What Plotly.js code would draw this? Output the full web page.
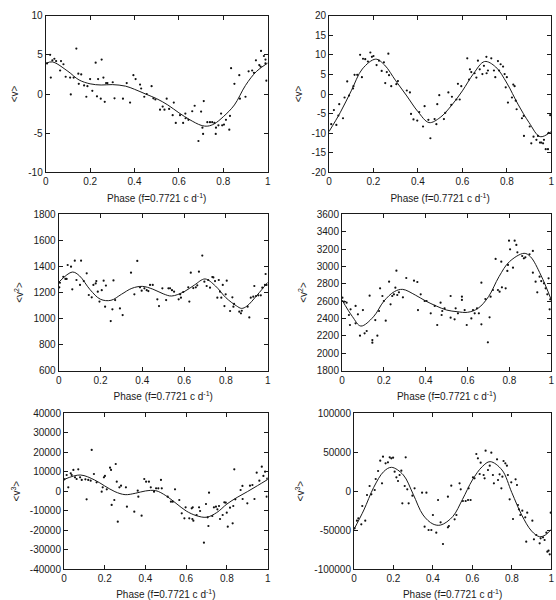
<!DOCTYPE html>
<html>
<head>
<meta charset="utf-8">
<script src="https://cdn.plot.ly/plotly-3.0.1.min.js"></script>
<style>
  html, body { margin: 0; padding: 0; background: #fff; }
  #chart { width: 556px; height: 600px; }
</style>
</head>
<body>
<div id="chart"></div>
<script>
// ---------- shared axis labels ----------
const phaseTicks = [0, 0.2, 0.4, 0.6, 0.8, 1];
const phaseTickText = ['0', '0.2', '0.4', '0.6', '0.8', '1'];
const phaseTitle = 'Phase (f=0.7721 c d<sup>-1</sup>)';

// ---------- <v> ----------
const v1Phase = [0.006,0.02,0.023,0.03,0.039,0.047,0.065,0.069,0.08,0.09,0.11,0.113,0.126,0.138,0.147,0.149,0.16,0.173,0.183,0.188,0.2,0.21,0.225,0.231,0.236,0.248,0.252,0.26,0.266,0.272,0.278,0.302,0.31,0.348,0.365,0.38,0.395,0.405,0.425,0.43,0.444,0.455,0.477,0.485,0.494,0.515,0.527,0.535,0.545,0.556,0.572,0.577,0.586,0.605,0.619,0.629,0.63,0.643,0.66,0.671,0.688,0.7,0.706,0.709,0.712,0.728,0.74,0.75,0.76,0.766,0.767,0.778,0.79,0.795,0.803,0.812,0.827,0.83,0.835,0.85,0.872,0.875,0.9,0.914,0.93,0.938,0.947,0.962,0.968,0.97,0.983,0.99,0.994,0.99];
const v1Value = [3.9,5.0,2.1,4.3,4.5,4.2,3.0,4.2,3.8,2.2,2.1,-0.05,2.1,5.8,2.6,1.3,2.5,1.1,-0.35,1.0,1.9,0.4,4.0,-0.3,1.9,-0.6,4.4,2.1,-1.0,1.4,1.4,1.5,-0.55,-0.6,1.4,-1.1,2.4,1.9,1.2,0.7,-0.35,0.0,1.0,-0.55,-0.7,-2.0,-1.6,-2.0,-0.6,-1.9,-2.7,-1.1,-3.7,-2.7,-3.7,-2.5,-3.1,-3.3,-2.2,-1.5,-6.0,-2.25,-4.3,-5.1,-0.9,-3.6,-3.6,-3.6,-3.7,-5.1,-4.3,-4.0,-2.5,-4.0,-3.9,-3.3,-4.55,-2.8,3.3,1.3,2.4,-0.6,-0.35,2.9,3.0,2.7,4.3,3.7,3.5,5.5,4.85,4.4,1.7,3.9];
const v1FitPhase = [0,0.03,0.1,0.15,0.2,0.25,0.3,0.36,0.4,0.45,0.5,0.55,0.6,0.65,0.7,0.73,0.76,0.8,0.85,0.9,0.95,1];
const v1Fit = [3.9,4.1,2.9,1.8,1.3,1.15,1.2,1.0,0.6,0.0,-0.6,-1.4,-2.4,-3.3,-4.0,-4.1,-3.8,-2.9,-1.4,1.1,2.9,3.95];
const v1Ticks = [-10,-5,0,5,10];
const v1TickText = ['-10','-5','0','5','10'];

// ---------- <v> (second star) ----------
const v2Phase = [0.01,0.022,0.033,0.042,0.046,0.063,0.07,0.082,0.09,0.108,0.11,0.115,0.127,0.14,0.148,0.153,0.163,0.175,0.186,0.193,0.2,0.214,0.225,0.237,0.247,0.253,0.26,0.267,0.27,0.28,0.303,0.31,0.35,0.364,0.369,0.38,0.397,0.406,0.423,0.43,0.447,0.456,0.475,0.483,0.487,0.496,0.517,0.523,0.537,0.55,0.553,0.573,0.58,0.588,0.595,0.622,0.63,0.634,0.64,0.655,0.663,0.67,0.678,0.69,0.697,0.708,0.709,0.715,0.73,0.742,0.748,0.76,0.765,0.772,0.783,0.79,0.795,0.8,0.805,0.823,0.829,0.835,0.84,0.844,0.868,0.876,0.877,0.903,0.91,0.92,0.933,0.94,0.949,0.955,0.963,0.967,0.975,0.985,0.988,0.995];
const v2Value = [-7.7,-4.1,-7.9,-5.5,-2.6,-6.2,-0.9,3.2,-0.4,1.4,2.0,4.9,4.9,10.0,4.3,9.0,8.9,8.3,10.6,9.5,9.7,7.4,8.5,5.9,8.1,2.8,5.6,10.3,4.8,2.0,2.5,3.3,0.9,0.4,-5.1,-6.5,-6.8,-4.6,-8.3,-3.1,-6.6,-11.3,-6.4,-7.7,-2.6,-0.3,-6.4,-4.8,0.4,-2.8,-0.7,-1.4,2.6,-1.4,2.0,9.1,3.7,6.3,5.6,5.3,4.2,8.5,6.3,5.1,7.2,9.5,5.3,6.0,9.1,6.0,4.3,8.4,6.0,7.6,7.0,5.1,1.7,4.3,-2.2,-0.9,2.4,2.0,-1.7,-3.9,-6.2,-5.6,-10.7,-8.3,-12.6,-10.9,-11.7,-10.7,-12.4,-12.4,-12.6,-11.7,-14.1,-14.1,-9.9,-5.4];
const v2FitPhase = [0,0.05,0.1,0.15,0.21,0.25,0.3,0.35,0.4,0.45,0.5,0.55,0.6,0.65,0.7,0.75,0.8,0.85,0.9,0.95,1];
const v2Fit = [-9.6,-4.8,0.8,6.4,8.9,7.4,3.4,-0.5,-4.5,-7.3,-6.0,-3.0,0.8,5.2,8.3,6.9,2.8,-2.6,-7.3,-10.9,-9.6];
const v2Ticks = [-20,-15,-10,-5,0,5,10,15,20];
const v2TickText = ['-20','-15','-10','-5','0','5','10','15','20'];

// ---------- <v^2> ----------
const w1Phase = [0.003,0.006,0.022,0.032,0.038,0.043,0.059,0.065,0.077,0.085,0.102,0.107,0.12,0.134,0.144,0.158,0.166,0.177,0.18,0.187,0.195,0.206,0.215,0.222,0.226,0.249,0.257,0.262,0.27,0.293,0.306,0.346,0.362,0.376,0.389,0.397,0.41,0.421,0.429,0.437,0.45,0.472,0.48,0.496,0.514,0.525,0.533,0.542,0.552,0.574,0.581,0.585,0.596,0.62,0.625,0.632,0.644,0.656,0.663,0.671,0.687,0.697,0.708,0.715,0.724,0.735,0.74,0.748,0.759,0.766,0.772,0.778,0.785,0.793,0.799,0.804,0.82,0.831,0.836,0.839,0.864,0.872,0.876,0.904,0.912,0.919,0.931,0.936,0.944,0.955,0.967,0.974,0.987,0.99,0.995];
const w1Value = [1240,1275,1320,1304,1304,1411,1398,1224,1444,1296,1258,1444,1288,1347,1181,1163,1258,1270,1288,1206,1130,1218,1291,1091,1253,981,1071,1293,1142,1078,1027,1352,1186,1442,1240,1214,1232,1218,1211,1258,1258,1148,1096,1232,1142,1232,1232,1218,1206,1148,1186,1160,1204,1240,1130,1352,1234,1240,1255,1360,1483,1283,1250,1296,1237,1319,1316,1288,1160,1296,1206,1160,1258,1096,1186,1291,1058,1163,1091,1112,1053,1040,1060,1091,1009,1160,1168,1250,1173,1178,1178,1237,1258,1342,1258];
const w1FitPhase = [0,0.065,0.1,0.15,0.2,0.25,0.3,0.35,0.4,0.45,0.5,0.54,0.6,0.65,0.7,0.75,0.8,0.85,0.875,0.9,0.95,1];
const w1Fit = [1278,1357,1327,1222,1148,1140,1186,1232,1247,1226,1190,1173,1206,1258,1304,1250,1160,1098,1078,1095,1181,1278];
const w1Ticks = [600,800,1000,1200,1400,1600,1800];
const w1TickText = ['600','800','1000','1200','1400','1600','1800'];

// ---------- <v^2> (second star) ----------
const w2Phase = [0.002,0.01,0.022,0.033,0.041,0.038,0.065,0.065,0.076,0.086,0.1,0.108,0.118,0.132,0.145,0.145,0.159,0.169,0.177,0.182,0.193,0.2,0.209,0.225,0.232,0.24,0.248,0.255,0.26,0.264,0.272,0.291,0.307,0.344,0.36,0.363,0.376,0.395,0.404,0.424,0.443,0.455,0.471,0.476,0.479,0.49,0.519,0.519,0.538,0.543,0.554,0.573,0.573,0.586,0.596,0.618,0.626,0.634,0.645,0.654,0.666,0.666,0.685,0.697,0.705,0.71,0.721,0.734,0.745,0.753,0.761,0.764,0.782,0.79,0.793,0.798,0.803,0.817,0.825,0.833,0.838,0.861,0.869,0.876,0.896,0.912,0.912,0.925,0.933,0.944,0.952,0.965,0.973,0.981,0.987,0.992,0.995];
const w2Value = [2640,2594,2583,2441,2506,2326,2345,2545,2449,2203,2498,2230,2257,2664,2122,2153,2383,2203,2487,2748,2660,2602,2376,2825,2564,2660,2679,2756,2951,2671,2702,2644,2867,2836,2821,2498,2679,2602,2602,2460,2545,2326,2583,2441,2487,2518,2660,2410,2391,2518,2460,2652,2614,2498,2326,2402,2498,2460,2518,2460,2813,2334,2625,2126,2414,2652,2729,3086,2729,2710,3055,2760,2748,2948,3017,3297,3197,2986,3297,3247,3162,3120,3093,3105,3140,3178,2928,2825,2702,2882,2832,2806,2748,2679,2863,2506,2621];
const w2FitPhase = [0,0.05,0.09,0.15,0.2,0.25,0.29,0.35,0.4,0.45,0.5,0.55,0.6,0.65,0.7,0.75,0.8,0.87,0.9,0.95,1];
const w2Fit = [2614,2422,2314,2420,2600,2710,2736,2671,2602,2545,2498,2479,2472,2518,2652,2882,3055,3151,3113,2901,2614];
const w2Ticks = [1800,2000,2200,2400,2600,2800,3000,3200,3400,3600];
const w2TickText = ['1800','2000','2200','2400','2600','2800','3000','3200','3400','3600'];

// ---------- <v^3> ----------
const u1Phase = [0.002,0.013,0.021,0.033,0.038,0.046,0.054,0.062,0.07,0.079,0.087,0.105,0.111,0.119,0.131,0.136,0.147,0.16,0.185,0.19,0.196,0.201,0.21,0.226,0.231,0.234,0.247,0.254,0.259,0.264,0.272,0.28,0.304,0.309,0.345,0.362,0.365,0.381,0.394,0.403,0.417,0.426,0.442,0.452,0.463,0.476,0.48,0.509,0.525,0.534,0.545,0.566,0.578,0.591,0.597,0.615,0.627,0.632,0.63,0.635,0.651,0.663,0.668,0.687,0.697,0.705,0.712,0.709,0.728,0.736,0.746,0.753,0.761,0.766,0.779,0.787,0.794,0.799,0.804,0.815,0.828,0.831,0.836,0.841,0.867,0.876,0.877,0.9,0.913,0.925,0.935,0.946,0.959,0.971,0.979,0.987,0.995,0.998];
const u1Value = [6080,8300,1970,9170,8300,10880,7110,6250,11220,7110,5750,6080,-4200,5750,5400,21160,8820,4540,-260,1970,7110,7800,940,12080,10880,-7100,-4540,13960,4880,-15670,1970,2830,1970,-7960,-10530,260,-2830,-12590,6250,4880,4880,1970,-260,1450,1450,5750,1450,-2830,-5400,-5400,940,-4540,-11390,-13960,-8300,-13960,-8820,-8300,-14300,-15160,-12250,-8300,-10190,-26470,-6590,-13440,-770,-17900,-12760,-8300,-7960,-9330,-7620,-14300,-12250,-5750,-5920,-11050,-18240,-8480,-16530,-7620,11220,-4200,600,2660,-4030,-6250,2830,3170,-4030,9500,5400,12590,7800,10020,-2830,6420];
const u1FitPhase = [0,0.08,0.15,0.2,0.25,0.3,0.35,0.4,0.45,0.5,0.55,0.6,0.65,0.7,0.75,0.8,0.85,0.9,0.95,1];
const u1Fit = [6000,8300,5750,2660,-260,-1800,-1100,100,260,-2300,-6250,-10200,-12600,-13400,-11000,-6600,-3200,-260,2830,6000];
const u1Ticks = [-40000,-30000,-20000,-10000,0,10000,20000,30000,40000];
const u1TickText = ['-40000','-30000','-20000','-10000','0','10000','20000','30000','40000'];

// ---------- <v^3> (second star) ----------
const u2Phase = [0.003,0.015,0.022,0.037,0.042,0.057,0.066,0.079,0.088,0.105,0.11,0.122,0.133,0.142,0.147,0.16,0.172,0.181,0.189,0.198,0.206,0.215,0.223,0.231,0.24,0.245,0.257,0.262,0.27,0.277,0.296,0.307,0.345,0.358,0.367,0.378,0.392,0.4,0.417,0.426,0.439,0.451,0.476,0.476,0.481,0.493,0.51,0.519,0.535,0.541,0.552,0.566,0.578,0.581,0.591,0.603,0.611,0.62,0.628,0.637,0.642,0.657,0.662,0.667,0.679,0.688,0.696,0.704,0.709,0.725,0.73,0.738,0.747,0.752,0.758,0.767,0.775,0.78,0.789,0.797,0.806,0.819,0.826,0.831,0.836,0.843,0.853,0.868,0.873,0.878,0.904,0.912,0.924,0.941,0.946,0.958,0.966,0.975,0.98,0.986,0.992,0.997];
const u2Value = [-47760,-37910,-34910,-42620,-19070,-37910,-4930,6640,-4070,1500,15630,25900,39180,10070,44320,35750,37040,43460,42180,43040,25050,17770,13060,20770,26330,-15640,6640,43460,2360,-15640,-5780,3640,-1930,-45620,-1930,-49900,-49900,-30620,-53330,-11350,-40050,-67890,-7070,-46480,-44770,7070,-36200,-30620,10070,2360,-12640,-12640,-11350,3640,-11350,17770,16490,47750,42180,22050,36610,20770,16490,52040,27190,32760,49470,20770,10070,40890,14350,21620,3640,18630,38750,35750,32760,20770,-10500,11350,-35770,15200,7920,-17780,-23350,-30620,-25060,-33630,-64890,-27620,-37910,-61890,-56330,-67040,-60610,-59320,-62750,-53330,-77740,-76460,-81170,-27620];
const u2FitPhase = [0,0.05,0.1,0.15,0.19,0.25,0.3,0.35,0.4,0.44,0.5,0.55,0.6,0.65,0.69,0.75,0.8,0.85,0.9,0.94,0.97,1];
const u2Fit = [-49000,-24200,4900,25000,30600,20800,-4000,-30600,-42200,-43500,-32800,-10500,14300,31500,37900,27200,-1900,-30600,-51200,-58500,-56300,-49000];
const u2Ticks = [-100000,-50000,0,50000,100000];
const u2TickText = ['-100000','-50000','0','50000','100000'];

// ---------- panel definitions ----------
const W = 556, H = 600;
const panels = [
  { ph: v1Phase, val: v1Value, fx: v1FitPhase, fy: v1Fit, range: [-10, 10], tv: v1Ticks, tt: v1TickText,
    title: '&lt;v&gt;', box: [45.7, 267.7, 15.7, 172.3] },
  { ph: v2Phase, val: v2Value, fx: v2FitPhase, fy: v2Fit, range: [-20, 20], tv: v2Ticks, tt: v2TickText,
    title: '&lt;v&gt;', box: [329, 551.3, 15.7, 172.3] },
  { ph: w1Phase, val: w1Value, fx: w1FitPhase, fy: w1Fit, range: [600, 1800], tv: w1Ticks, tt: w1TickText,
    title: '&lt;v<sup>2</sup>&gt;', box: [58.7, 267.7, 214.3, 370.7] },
  { ph: w2Phase, val: w2Value, fx: w2FitPhase, fy: w2Fit, range: [1800, 3600], tv: w2Ticks, tt: w2TickText,
    title: '&lt;v<sup>2</sup>&gt;', box: [342, 551.3, 214.3, 370.7] },
  { ph: u1Phase, val: u1Value, fx: u1FitPhase, fy: u1Fit, range: [-40000, 40000], tv: u1Ticks, tt: u1TickText,
    title: '&lt;v<sup>3</sup>&gt;', box: [64, 267.7, 413.3, 569] },
  { ph: u2Phase, val: u2Value, fx: u2FitPhase, fy: u2Fit, range: [-100000, 100000], tv: u2Ticks, tt: u2TickText,
    title: '&lt;v<sup>3</sup>&gt;', box: [354, 551.3, 413.3, 569] }
];

const ink = '#1a1a1a';
const traces = [];
const layout = {
  width: W, height: H,
  margin: { l: 0, r: 0, t: 0, b: 0, pad: 0 },
  paper_bgcolor: '#ffffff',
  plot_bgcolor: '#ffffff',
  showlegend: false,
  font: { family: 'Liberation Sans, Arial, sans-serif', size: 10, color: ink }
};

const axisBase = {
  showline: true, linecolor: ink, linewidth: 1,
  mirror: 'ticks', ticks: 'inside', ticklen: 4, tickwidth: 1, tickcolor: ink,
  showgrid: false, zeroline: false, fixedrange: true,
  tickfont: { family: 'Liberation Sans, Arial, sans-serif', size: 10, color: ink }
};

panels.forEach((p, i) => {
  const n = i === 0 ? '' : String(i + 1);
  const xa = 'x' + n, ya = 'y' + n;
  const [x0, x1, yTop, yBot] = p.box;

  // observed points
  traces.push({
    type: 'scatter', mode: 'markers', x: p.ph, y: p.val,
    xaxis: xa, yaxis: ya, cliponaxis: true,
    marker: { size: 2.2, color: '#111', line: { width: 0 } },
    hoverinfo: 'skip'
  });
  // fitted curve
  traces.push({
    type: 'scatter', mode: 'lines', x: p.fx, y: p.fy,
    xaxis: xa, yaxis: ya,
    line: { color: ink, width: 1, shape: 'spline', smoothing: 1 },
    hoverinfo: 'skip'
  });

  layout['xaxis' + n] = Object.assign({}, axisBase, {
    domain: [x0 / W, x1 / W], anchor: ya, range: [0, 1],
    tickmode: 'array', tickvals: phaseTicks, ticktext: phaseTickText,
    title: { text: phaseTitle, standoff: 8, font: { size: 10, color: ink } }
  });
  layout['yaxis' + n] = Object.assign({}, axisBase, {
    domain: [1 - yBot / H, 1 - yTop / H], anchor: xa, range: p.range,
    tickmode: 'array', tickvals: p.tv, ticktext: p.tt,
    title: { text: p.title, standoff: 7, font: { size: 10, color: ink } }
  });
});

Plotly.newPlot('chart', traces, layout, { staticPlot: true, displayModeBar: false });
</script>
</body>
</html>
